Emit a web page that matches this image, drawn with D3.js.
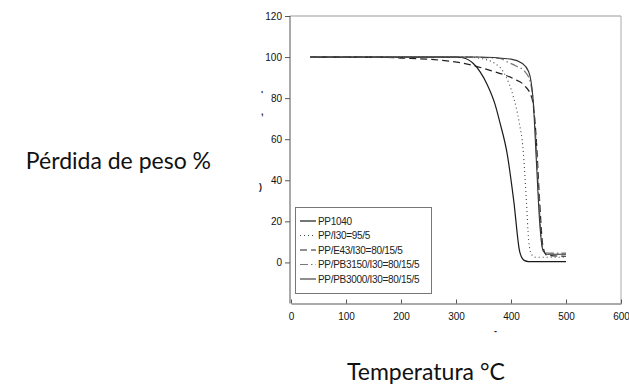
<!DOCTYPE html>
<html>
<head>
<meta charset="utf-8">
<script src="https://cdn.jsdelivr.net/npm/d3@7"></script>
<style>
  body { margin: 0; background: #fff; }
  svg { display: block; }
  .tick text { font-family: "Liberation Sans", Arial, sans-serif; font-size: 10px; fill: #111; }
  .axis path, .axis line { stroke: #555; }
  .title { font-family: Lato, "Noto Sans", sans-serif; font-size: 23px; fill: #111; }
  .legend text { font-family: "Liberation Sans", Arial, sans-serif; font-size: 10px; fill: #222; letter-spacing: -0.3px; }
</style>
</head>
<body>
<div id="chart"></div>
<script>
// series data (temperature °C, weight %)
var seriesNames = ["PP1040", "PP/I30=95/5", "PP/E43/I30=80/15/5", "PP/PB3150/I30=80/15/5", "PP/PB3000/I30=80/15/5"];

var tPP1040 = [35, 150, 300, 310, 331, 356, 371, 380, 393, 405, 416, 424, 432, 500];
var wPP1040 = [100, 100, 100, 99.8, 97, 87, 77, 68, 53, 30, 5, 1, 0.4, 0.4];

var tPPI30 = [35, 200, 320, 345, 370, 390, 405, 415, 422, 428, 432, 437, 445, 500];
var wPPI30 = [100, 100, 100, 99.3, 97, 91, 80, 68, 55, 30, 11, 4, 2.5, 2.5];

var tE43 = [35, 150, 200, 270, 313, 362, 404, 425, 438, 446, 452, 458, 465, 500];
var wE43 = [100, 100, 99.5, 98.5, 97, 93.5, 89.5, 86, 80, 60, 30, 8, 3.5, 3];

var tPB3150 = [35, 200, 320, 380, 392, 410, 425, 435, 443, 449, 455, 460, 470, 500];
var wPB3150 = [100, 100, 100, 99.3, 97.8, 95.5, 93, 88, 70, 40, 12, 5, 4.5, 4.5];

var tPB3000 = [35, 200, 340, 400, 420, 432, 440, 446, 452, 458, 465, 500];
var wPB3000 = [100, 100, 100, 99, 97, 93, 80, 50, 20, 6, 4, 4];

var xTicks = [0, 100, 200, 300, 400, 500, 600];
var yTicks = [0, 20, 40, 60, 80, 100, 120];

var styles = [
  { color: "#1a1a1a", dash: null, width: 1.2 },
  { color: "#444", dash: "1,3", width: 1.1 },
  { color: "#222", dash: "7,4", width: 1.2 },
  { color: "#777", dash: "8,3,1.5,3", width: 1.2 },
  { color: "#333", dash: null, width: 1.1 }
];

var svgWidth = 629, svgHeight = 388;
var svg = d3.select("#chart").append("svg")
  .attr("width", svgWidth)
  .attr("height", svgHeight);

var x = d3.scaleLinear().domain([0, 600]).range([291, 621]);
var y = d3.scaleLinear().domain([-20, 120]).range([303.5, 16]);

var series = [
  [tPP1040, wPP1040], [tPPI30, wPPI30], [tE43, wE43], [tPB3150, wPB3150], [tPB3000, wPB3000]
].map(function (s) { return s[0].map(function (t, i) { return [t, s[1][i]]; }); });

// frame: top and right border
svg.append("line")
  .attr("x1", x(0) - 1).attr("x2", x(600))
  .attr("y1", y(120)).attr("y2", y(120))
  .attr("stroke", "#999");
svg.append("line")
  .attr("x1", x(600)).attr("x2", x(600))
  .attr("y1", y(120)).attr("y2", y(-20))
  .attr("stroke", "#aaa");

// y axis
var yAxis = svg.append("g")
  .attr("class", "axis")
  .attr("transform", "translate(" + (x(0) - 1) + ",0)")
  .call(d3.axisLeft(y).tickValues(yTicks).tickSize(5).tickSizeOuter(0));
yAxis.select(".domain").attr("d", "M0," + y(120) + "V" + y(-20));

// x axis
svg.append("g")
  .attr("class", "axis")
  .attr("transform", "translate(0," + y(-20) + ")")
  .call(d3.axisBottom(x).tickValues(xTicks).tickSize(-4).tickSizeOuter(0).tickPadding(9));

// curves
var line = d3.line()
  .curve(d3.curveMonotoneX)
  .x(function (d) { return x(d[0]); })
  .y(function (d) { return y(d[1]); });

series.forEach(function (s, i) {
  svg.append("path")
    .datum(s)
    .attr("fill", "none")
    .attr("stroke", styles[i].color)
    .attr("stroke-width", styles[i].width)
    .attr("stroke-dasharray", styles[i].dash)
    .attr("d", line);
});

// legend
var lg = svg.append("g").attr("class", "legend");
lg.append("rect")
  .attr("x", 295.5).attr("y", 207.5)
  .attr("width", 136).attr("height", 86)
  .attr("fill", "#fff")
  .attr("stroke", "#777");
seriesNames.forEach(function (name, i) {
  var yy = 221 + i * 14.5;
  lg.append("line")
    .attr("x1", 300).attr("x2", 316)
    .attr("y1", yy).attr("y2", yy)
    .attr("stroke", styles[i].color)
    .attr("stroke-width", styles[i].width)
    .attr("stroke-dasharray", styles[i].dash);
  lg.append("text")
    .attr("x", 318).attr("y", yy + 3.5)
    .text(name);
});

// axis titles
svg.append("text")
  .attr("class", "title")
  .attr("x", 211).attr("y", 169)
  .attr("text-anchor", "end")
  .text("Pérdida de peso %");
svg.append("text")
  .attr("class", "title")
  .attr("x", 347).attr("y", 380)
  .text("Temperatura °C");

// leftover scan marks of the original axis titles
[["'", 261, 97], [",", 261, 115], [")", 259, 190], ["-", 494, 334]].forEach(function (m) {
  svg.append("text")
    .attr("x", m[1]).attr("y", m[2])
    .attr("font-family", "Liberation Sans, Arial, sans-serif")
    .attr("font-size", 9)
    .attr("font-weight", "bold")
    .attr("fill", "#222")
    .text(m[0]);
});
</script>
</body>
</html>
